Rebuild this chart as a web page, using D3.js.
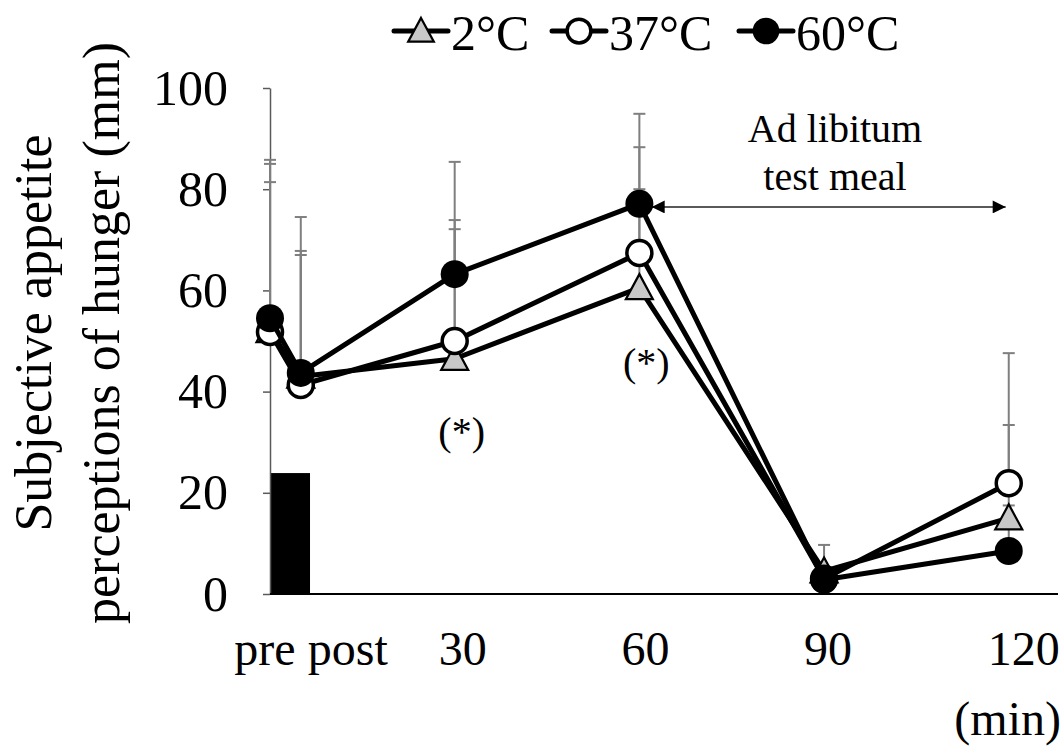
<!DOCTYPE html>
<html>
<head>
<meta charset="utf-8">
<script src="https://cdn.jsdelivr.net/npm/d3@7/dist/d3.min.js"></script>
<style>
  html, body { margin: 0; padding: 0; background: #fff; }
  svg { display: block; }
  svg text { font-family: "Liberation Serif", "Times New Roman", serif; fill: #000; }
</style>
</head>
<body>
<svg id="chart" width="1064" height="753"></svg>
<script>
// Sampling times (min) and their axis labels
const timePoints = [0, 5, 30, 60, 90, 120];
const timeLabels = ["pre", "post", "30", "60", "90", "120"];

// Series names
const seriesNames = ["2°C", "37°C", "60°C"];

// Mean hunger VAS (mm)
const hunger2  = [52.0, 43.0, 46.5, 60.5, 4.5, 15.0];
const hunger37 = [51.8, 41.3, 50.0, 67.4, 3.0, 21.9];
const hunger60 = [54.5, 43.7, 63.2, 77.1, 2.8, 8.5];

// Standard deviations (upper bars only)
const sd2  = [29.4, 24.0, 25.6, 19.5, 5.2, 18.4];
const sd37 = [33.2, 26.5, 23.9, 20.9, 2.0, 25.7];
const sd60 = [31.3, 30.8, 22.2, 17.8, 2.2, 9.0];

// Y axis ticks
const yTicks = [0, 20, 40, 60, 80, 100];

// Drink intake period (min) and bar height
const intakePeriod = [0, 6.5];
const intakeHeight = 23.9;

// Ad libitum test meal window (min) and level
const mealWindow = [62, 119.5];
const mealLevel = 76.5;

// Significance marks (time, level)
const sigTimes = [30, 60];
const sigLevels = [29.5, 43.0];

const svg = d3.select("#chart");
const x = d3.scaleLinear().domain([0, 128]).range([270, 1058]);
const y = d3.scaleLinear().domain([0, 100]).range([594, 88]);

const series = [
  { name: seriesNames[0], values: hunger2,  sd: sd2,  shape: "triangle" },
  { name: seriesNames[1], values: hunger37, sd: sd37, shape: "open" },
  { name: seriesNames[2], values: hunger60, sd: sd60, shape: "filled" }
];

// intake bar
svg.append("rect")
  .attr("x", x(intakePeriod[0]))
  .attr("width", x(intakePeriod[1]) - x(intakePeriod[0]))
  .attr("y", y(intakeHeight))
  .attr("height", y(0) - y(intakeHeight))
  .attr("fill", "#000");

// y axis
const yAxis = svg.append("g")
  .attr("transform", `translate(${x(0)},0)`)
  .call(d3.axisLeft(y).tickValues(yTicks).tickSize(7).tickPadding(35).tickSizeOuter(0));
yAxis.attr("font-family", null);
yAxis.select(".domain").attr("stroke", "#595959").attr("stroke-width", 1.5);
yAxis.selectAll(".tick line").attr("stroke", "#595959").attr("stroke-width", 1.5);
yAxis.selectAll(".tick text").attr("font-size", 50);

// x axis line
svg.append("line")
  .attr("x1", x(0)).attr("x2", x(128))
  .attr("y1", y(0)).attr("y2", y(0))
  .attr("stroke", "#000").attr("stroke-width", 2);

// x labels
const labelNudge = [-5, 47, 8, 6, 4, 15];
svg.append("g").selectAll("text")
  .data(timePoints)
  .join("text")
  .attr("x", (d, i) => x(d) + labelNudge[i])
  .attr("y", 665)
  .attr("text-anchor", "middle")
  .attr("font-size", 48)
  .text((d, i) => timeLabels[i]);

svg.append("text")
  .attr("x", 1061).attr("y", 735)
  .attr("text-anchor", "end")
  .attr("font-size", 48)
  .text("(min)");

// y title
const yTitle = svg.append("g")
  .attr("transform", "translate(0,333) rotate(-90)");
yTitle.append("text").attr("x", 0).attr("y", 51)
  .attr("text-anchor", "middle").attr("font-size", 52)
  .text("Subjective appetite");
yTitle.append("text").attr("x", 0).attr("y", 119)
  .attr("text-anchor", "middle").attr("font-size", 52)
  .text("perceptions of hunger (mm)");

// error bars (upper only), behind everything else
const errG = svg.append("g");
series.forEach(s => {
  s.values.forEach((v, i) => {
    const cx = x(timePoints[i]);
    const top = v + s.sd[i];
    errG.append("line")
      .attr("x1", cx).attr("x2", cx)
      .attr("y1", y(v)).attr("y2", y(top))
      .attr("stroke", "#7f7f7f").attr("stroke-width", 2);
    errG.append("line")
      .attr("x1", cx - 6).attr("x2", cx + 6)
      .attr("y1", y(top)).attr("y2", y(top))
      .attr("stroke", "#7f7f7f").attr("stroke-width", 2);
  });
});

// meal arrow
const defs = svg.append("defs");
defs.append("marker").attr("id", "arrowHead")
  .attr("viewBox", "0 0 10 10").attr("refX", 10).attr("refY", 5)
  .attr("markerWidth", 15).attr("markerHeight", 13)
  .attr("markerUnits", "userSpaceOnUse")
  .attr("orient", "auto-start-reverse")
  .append("path").attr("d", "M0,0 L10,5 L0,10 Z").attr("fill", "#000");

svg.append("line")
  .attr("x1", x(mealWindow[0])).attr("x2", x(mealWindow[1]))
  .attr("y1", y(mealLevel)).attr("y2", y(mealLevel))
  .attr("stroke", "#222").attr("stroke-width", 1.5)
  .attr("marker-start", "url(#arrowHead)")
  .attr("marker-end", "url(#arrowHead)");

svg.append("text").attr("x", 835).attr("y", 142)
  .attr("text-anchor", "middle").attr("font-size", 40).text("Ad libitum");
svg.append("text").attr("x", 835).attr("y", 190)
  .attr("text-anchor", "middle").attr("font-size", 40).text("test meal");

// significance marks
svg.append("g").selectAll("text")
  .data(sigTimes)
  .join("text")
  .attr("x", d => x(d) + 7)
  .attr("y", (d, i) => y(sigLevels[i]))
  .attr("text-anchor", "middle")
  .attr("font-size", 40)
  .text("(*)");

// marker drawing helper
const triPath = (cx, cy, w, h) =>
  `M${cx},${cy - h * 0.55} L${cx + w / 2},${cy + h * 0.45} L${cx - w / 2},${cy + h * 0.45} Z`;

function drawMarker(g, shape, cx, cy, scale = 1) {
  if (shape === "triangle") {
    g.append("path").attr("d", triPath(cx, cy, 27 * scale, 25 * scale))
      .attr("fill", "#c8c8c8").attr("stroke", "#000").attr("stroke-width", 2.2);
  } else if (shape === "open") {
    g.append("circle").attr("cx", cx).attr("cy", cy).attr("r", 12.5 * scale)
      .attr("fill", "#fff").attr("stroke", "#000").attr("stroke-width", 3.5);
  } else {
    g.append("circle").attr("cx", cx).attr("cy", cy).attr("r", 14 * scale)
      .attr("fill", "#000");
  }
}

// lines and markers, series in order
const line = d3.line().x((d, i) => x(timePoints[i])).y(d => y(d));
series.forEach(s => {
  const g = svg.append("g");
  g.append("path").datum(s.values)
    .attr("d", line)
    .attr("fill", "none").attr("stroke", "#000")
    .attr("stroke-width", 5).attr("stroke-linejoin", "round");
  s.values.forEach((v, i) => drawMarker(g, s.shape, x(timePoints[i]), y(v)));
});

// legend
const legendX = [394, 552, 739];
const legend = svg.append("g");
series.forEach((s, i) => {
  const g = legend.append("g");
  const lx = legendX[i];
  g.append("line").attr("x1", lx).attr("x2", lx + 54)
    .attr("y1", 31).attr("y2", 31)
    .attr("stroke", "#000").attr("stroke-width", 5).attr("stroke-linecap", "round");
  drawMarker(g, s.shape, lx + 27, 31, 0.95);
  g.append("text").attr("x", lx + 57).attr("y", 50)
    .attr("font-size", 50).text(s.name);
});
</script>
</body>
</html>
